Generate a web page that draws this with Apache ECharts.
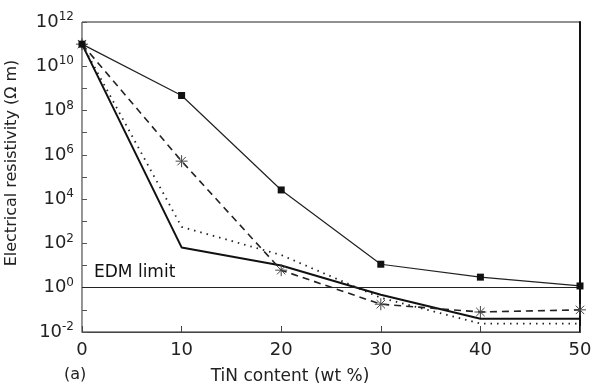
<!DOCTYPE html>
<html>
<head>
<meta charset="utf-8">
<script src="https://cdn.jsdelivr.net/npm/echarts@6/dist/echarts.min.js"></script>
<style>
  html, body { margin: 0; padding: 0; background: #fff; }
  #main { width: 595px; height: 387px; }
</style>
</head>
<body>
<div id="main"></div>
<script>
// TiN content (wt %)
const tinContent = [0, 10, 20, 30, 40, 50];
// electrical resistivity (ohm m)
const squareSeries = [1e11, 4.8e8, 2.6e4, 11.5, 3.0, 1.2];
const starSeries = [1e11, 5.2e5, 6.2, 0.18, 0.08, 0.1];
const solidSeries = [1e11, 66, 10, 0.48, 0.04, 0.04];
const dottedSeries = [1e11, 560, 30, 0.35, 0.024, 0.024];
const edmLimit = 1;
const xTicks = [0, 10, 20, 30, 40, 50];

const pairs = (ys) => tinContent.map((x, i) => [x, ys[i]]);

const asterisk = 'path://M0,5L10,5M5,0L5,10M1.5,1.5L8.5,8.5M8.5,1.5L1.5,8.5';

const chartDom = document.getElementById("main");
const myChart = echarts.init(chartDom);

const font = "'DejaVu Sans', 'Liberation Sans', sans-serif";

const option = {
  animation: false,
  backgroundColor: "#fff",
  textStyle: { fontFamily: font },
  grid: {
    left: 82,
    right: 15,
    top: 22,
    bottom: 55,
    outerBoundsMode: "none",
    containLabel: false,
    show: true,
    borderColor: "#222",
    borderWidth: 1,
  },
  xAxis: [
    {
      type: "value",
      min: 0,
      max: 50,
      interval: 10,
      name: "TiN content (wt %)",
      nameLocation: "middle",
      nameGap: 36,
      nameTextStyle: { fontSize: 17, color: "#222", fontFamily: font, padding: [0, 82, 0, 0] },
      axisLine: { show: true, lineStyle: { color: "#444", width: 1 } },
      axisTick: { show: true, inside: true, length: 6, lineStyle: { color: "#444" } },
      axisLabel: {
        fontSize: 18,
        color: "#222",
        fontFamily: font,
        margin: 9,
        formatter: (v) => (xTicks.includes(v) ? String(v) : ""),
      },
      splitLine: { show: false },
    },
  ],
  yAxis: [
    {
      type: "log",
      logBase: 10,
      min: 1e-2,
      max: 1e12,
      interval: 1,
      name: "Electrical resistivity (\u03A9 m)",
      nameLocation: "middle",
      nameGap: 62,
      nameTextStyle: { fontSize: 16, color: "#222", fontFamily: font, padding: [0, 0, 0, 28] },
      axisLine: { show: true, lineStyle: { color: "#999", width: 1 } },
      axisTick: { show: true, inside: true, length: 5, lineStyle: { color: "#555" } },
      axisLabel: {
        margin: 8,
        formatter: (v) => {
          const e = Math.round(Math.log10(v));
          if (e % 2 !== 0) return "";
          return "{b|10}{s|" + e + "}";
        },
        rich: {
          b: { fontSize: 18, color: "#222", fontFamily: font },
          s: { fontSize: 12, color: "#222", fontFamily: font, verticalAlign: "top", padding: [0, 0, 10, 0] },
        },
      },
      splitLine: { show: false },
    },
    {
      type: "log",
      logBase: 10,
      min: 1e-2,
      max: 1e12,
      position: "right",
      axisLine: { show: true, lineStyle: { color: "#111", width: 2 } },
      axisTick: { show: false },
      axisLabel: { show: false },
      splitLine: { show: false },
    },
  ],
  series: [
    {
      name: "squares",
      type: "line",
      data: pairs(squareSeries),
      symbol: "rect",
      symbolSize: 7,
      itemStyle: { color: "#111" },
      lineStyle: { color: "#222", width: 1.2 },
      z: 5,
      markLine: {
        silent: true,
        symbol: "none",
        data: [{ yAxis: edmLimit }],
        lineStyle: { color: "#222", type: "solid", width: 1.2 },
        label: {
          show: true,
          position: "insideStartTop",
          formatter: "EDM limit",
          fontSize: 17,
          color: "#111",
          fontFamily: font,
          distance: [12, 7],
        },
      },
    },
    {
      name: "stars",
      type: "line",
      data: pairs(starSeries),
      symbol: asterisk,
      symbolSize: 12,
      itemStyle: { color: "transparent", borderColor: "#444", borderWidth: 1 },
      lineStyle: { color: "#222", width: 1.6, type: [7, 5] },
      z: 4,
    },
    {
      name: "solid",
      type: "line",
      data: pairs(solidSeries),
      symbol: "none",
      lineStyle: { color: "#111", width: 2 },
      z: 3,
    },
    {
      name: "dotted",
      type: "line",
      data: pairs(dottedSeries),
      symbol: "none",
      lineStyle: { color: "#222", width: 1.8, type: [1.5, 5] },
      z: 2,
    },
  ],
  graphic: [
    {
      type: "text",
      left: 64,
      top: 367,
      style: { text: "(a)", fontSize: 16, fill: "#222", fontFamily: font },
    },
  ],
};

option && myChart.setOption(option);
</script>
</body>
</html>
